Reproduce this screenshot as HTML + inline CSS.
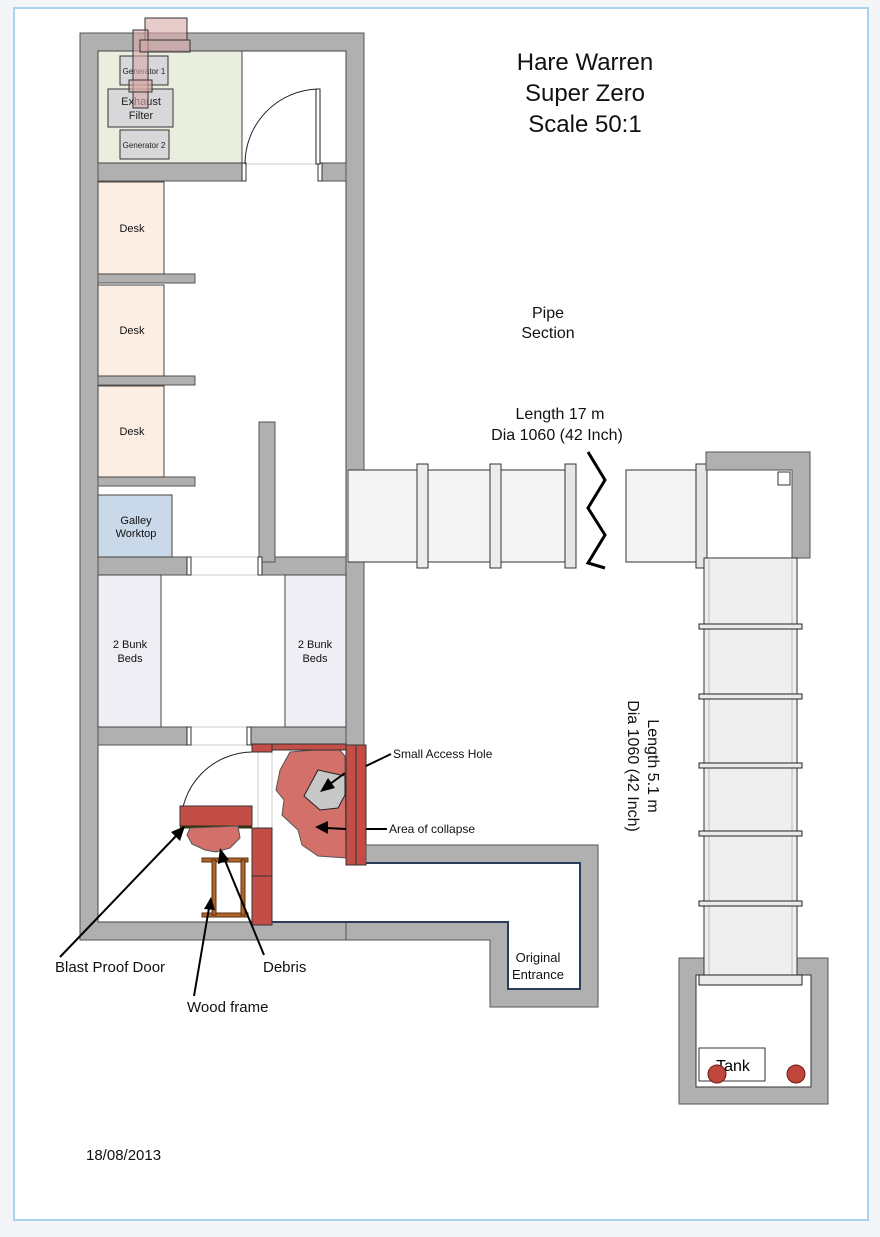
<!DOCTYPE html>
<html><head><meta charset="utf-8"><style>
html,body{margin:0;padding:0;background:#f4f5f8;}
svg{display:block;font-family:"Liberation Sans",sans-serif;}
</style></head><body>
<svg width="880" height="1237" viewBox="0 0 880 1237" xmlns="http://www.w3.org/2000/svg">
<rect x="0" y="0" width="880" height="1237" fill="#f4f5f8"/>
<rect x="14" y="8" width="854" height="1212" fill="#fff" stroke="#a9d3ee" stroke-width="2"/>
<rect x="80" y="33" width="284" height="907" fill="#b0b0b0" stroke="#555"/>
<rect x="98" y="51" width="248" height="871" fill="#fff" stroke="#444"/>
<rect x="347" y="470" width="20" height="92" fill="#fff"/>
<rect x="345" y="864" width="22" height="58" fill="#fff"/>
<g fill="#b0b0b0" stroke="#555">
<rect x="98" y="163" width="146" height="18"/>
<rect x="320" y="163" width="26" height="18"/>
<rect x="98" y="274" width="97" height="9"/>
<rect x="98" y="376" width="97" height="9"/>
<rect x="98" y="477" width="97" height="9"/>
<rect x="98" y="557" width="92" height="18"/>
<rect x="259" y="557" width="87" height="18"/>
<rect x="259" y="422" width="16" height="140"/>
<rect x="98" y="727" width="92" height="18"/>
<rect x="250" y="727" width="96" height="18"/>
</g>
<rect x="98" y="51" width="144" height="112" fill="#e9eedf" stroke="#444"/>
<g stroke="#444" fill="#fdeee4"><rect x="98" y="182" width="66" height="92"/><rect x="98" y="285" width="66" height="91"/><rect x="98" y="386" width="66" height="91"/></g>
<rect x="98" y="495" width="74" height="62" fill="#c9d9e9" stroke="#444"/>
<rect x="98" y="575" width="63" height="152" fill="#efeef4" stroke="#444"/>
<rect x="285" y="575" width="61" height="152" fill="#efeef4" stroke="#444"/>
<g font-size="11" text-anchor="middle" fill="#111">
<text x="132" y="232">Desk</text><text x="132" y="334">Desk</text><text x="132" y="435">Desk</text>
<text x="136" y="524">Galley</text><text x="136" y="537">Worktop</text>
<text x="130" y="648">2 Bunk</text><text x="130" y="662">Beds</text>
<text x="315" y="648">2 Bunk</text><text x="315" y="662">Beds</text>
</g>
<g stroke="#ccc" fill="none"><line x1="190" y1="557" x2="259" y2="557"/><line x1="190" y1="575" x2="259" y2="575"/><line x1="190" y1="727" x2="250" y2="727"/><line x1="190" y1="745" x2="250" y2="745"/><line x1="244" y1="164" x2="320" y2="164"/></g>
<g fill="#fff" stroke="#333"><rect x="187" y="557" width="4" height="18"/><rect x="258" y="557" width="4" height="18"/><rect x="187" y="727" width="4" height="18"/><rect x="247" y="727" width="4" height="18"/><rect x="242" y="163" width="4" height="18"/><rect x="318" y="163" width="4" height="18"/></g>
<path d="M245,164 A75,75 0 0 1 318,89" fill="none" stroke="#222"/>
<rect x="316" y="89" width="4" height="75" fill="#fff" stroke="#222"/>
<g stroke="#333" fill="#d8d8da">
<rect x="120" y="56" width="48" height="29"/><rect x="108" y="89" width="65" height="38"/><rect x="120" y="130" width="49" height="29"/></g>
<g font-size="8" text-anchor="middle" fill="#222"><text x="144" y="74">Generator 1</text><text x="144" y="148">Generator 2</text></g>
<g font-size="11" text-anchor="middle" fill="#222"><text x="141" y="105">Exhaust</text><text x="141" y="119">Filter</text></g>
<g fill="#d9a8a8" fill-opacity="0.6" stroke="#333">
<rect x="145" y="18" width="42" height="22"/><rect x="133" y="30" width="15" height="78"/><rect x="140" y="40" width="50" height="12"/><rect x="129" y="80" width="23" height="12"/></g>
<path d="M181,826 A72,72 0 0 1 252,752" fill="none" stroke="#222"/>
<line x1="258" y1="745" x2="258" y2="925" stroke="#ccc"/><line x1="272" y1="745" x2="272" y2="925" stroke="#ccc"/>
<path d="M290,752 L338,748 L345,756 L346,858 L318,856 L302,845 L298,830 L282,815 L284,800 L276,790 L280,770 z" fill="#d4706a" stroke="#555"/>
<path d="M318,770 L345,776 L345,795 L338,808 L320,810 L304,796 z" fill="#c8c8c8" stroke="#222"/>
<g fill="#c24e47" stroke="#333"><rect x="252" y="744" width="20" height="8"/><rect x="272" y="744" width="74" height="6"/><rect x="346" y="745" width="20" height="120"/><rect x="356" y="745" width="10" height="120" fill="#c44c44"/>
<rect x="180" y="806" width="72" height="20"/><rect x="252" y="828" width="20" height="48"/><rect x="252" y="876" width="20" height="49"/></g>
<line x1="180" y1="827" x2="252" y2="827" stroke="#331" stroke-width="3"/>
<path d="M190,828 L238,826 L240,838 L230,848 L216,852 L205,850 L192,844 L187,835 z" fill="#d4706a" stroke="#555"/>
<g fill="#b0652c" stroke="#5a3010"><rect x="202" y="858" width="46" height="4"/><rect x="202" y="913" width="46" height="4"/><rect x="212" y="860" width="4" height="55"/><rect x="241" y="860" width="4" height="55"/></g>
<path d="M366,845 H598 V1007 H490 V940 H346 V922 H508 V989 H580 V863 H366 z" fill="#b0b0b0" stroke="#555"/>
<path d="M272,922 H508 V989 H580 V863 H366" fill="none" stroke="#2c3d5a" stroke-width="2"/>
<g font-size="13" text-anchor="middle" fill="#111"><text x="538" y="962">Original</text><text x="538" y="979">Entrance</text></g>
<g stroke="#333"><rect x="348" y="470" width="228" height="92" fill="#f4f4f4"/><rect x="626" y="470" width="72" height="92" fill="#f4f4f4"/>
<rect x="417" y="464" width="11" height="104" fill="#ececec"/><rect x="490" y="464" width="11" height="104" fill="#ececec"/><rect x="565" y="464" width="11" height="104" fill="#e6e6e6"/><rect x="696" y="464" width="11" height="104" fill="#e6e6e6"/></g>
<path d="M588,452 L605,480 L588,508 L605,535 L588,563 L605,568" fill="none" stroke="#000" stroke-width="3"/>
<path d="M706,452 H810 V558 H792 V470 H706 z" fill="#b0b0b0" stroke="#555"/>
<rect x="778" y="472" width="12" height="13" fill="#fff" stroke="#333"/>
<rect x="679" y="958" width="149" height="146" fill="#b0b0b0" stroke="#555"/>
<rect x="696" y="975" width="115" height="112" fill="#fff" stroke="#333"/>
<rect x="704" y="558" width="93" height="424" fill="#efefef" stroke="#333"/>
<line x1="709" y1="558" x2="709" y2="982" stroke="#bbb"/><line x1="792" y1="558" x2="792" y2="982" stroke="#bbb"/>
<g stroke="#222" fill="#eaeaea"><rect x="699" y="624" width="103" height="5"/><rect x="699" y="694" width="103" height="5"/><rect x="699" y="763" width="103" height="5"/><rect x="699" y="831" width="103" height="5"/><rect x="699" y="901" width="103" height="5"/><rect x="699" y="975" width="103" height="10"/></g>
<rect x="699" y="1048" width="66" height="33" fill="#fff" stroke="#333"/>
<text x="733" y="1071" font-size="16" text-anchor="middle">Tank</text>
<circle cx="717" cy="1074" r="9" fill="#c0453a" stroke="#6a1d18"/><circle cx="796" cy="1074" r="9" fill="#c0453a" stroke="#6a1d18"/>
<g font-size="24" text-anchor="middle" fill="#111"><text x="585" y="70">Hare Warren</text><text x="585" y="101">Super Zero</text><text x="585" y="132">Scale 50:1</text></g>
<g font-size="16" text-anchor="middle" fill="#111"><text x="548" y="318">Pipe</text><text x="548" y="338">Section</text>
<text x="560" y="419">Length 17 m</text><text x="557" y="440">Dia 1060 (42 Inch)</text></g>
<g transform="translate(642,766) rotate(90)" font-size="16" text-anchor="middle" fill="#111"><text x="0" y="-6">Length 5.1 m</text><text x="0" y="14">Dia 1060 (42 Inch)</text></g>
<g font-size="12" fill="#111"><text x="393" y="758">Small Access Hole</text><text x="389" y="833">Area of collapse</text></g>
<g font-size="15" fill="#111"><text x="55" y="972">Blast Proof Door</text><text x="263" y="972">Debris</text><text x="187" y="1012">Wood frame</text><text x="86" y="1160">18/08/2013</text></g>
<g stroke="#000" stroke-width="2" fill="none">
<line x1="391" y1="754" x2="366" y2="766"/><line x1="345" y1="773" x2="330" y2="784"/>
<line x1="387" y1="829" x2="366" y2="829"/><line x1="346" y1="829" x2="326" y2="828"/>
<line x1="60" y1="957" x2="176" y2="836"/>
<line x1="264" y1="955" x2="224" y2="858"/>
<line x1="194" y1="996" x2="209" y2="908"/>
</g>
<g fill="#000">
<polygon points="320,792 328,778 335,788"/>
<polygon points="315,827 328,821 328,834"/>
<polygon points="185,826 180,841 171,832"/>
<polygon points="220,848 229,860 218,864"/>
<polygon points="211,897 215,910 204,909"/>
</g>
</svg>
</body></html>
